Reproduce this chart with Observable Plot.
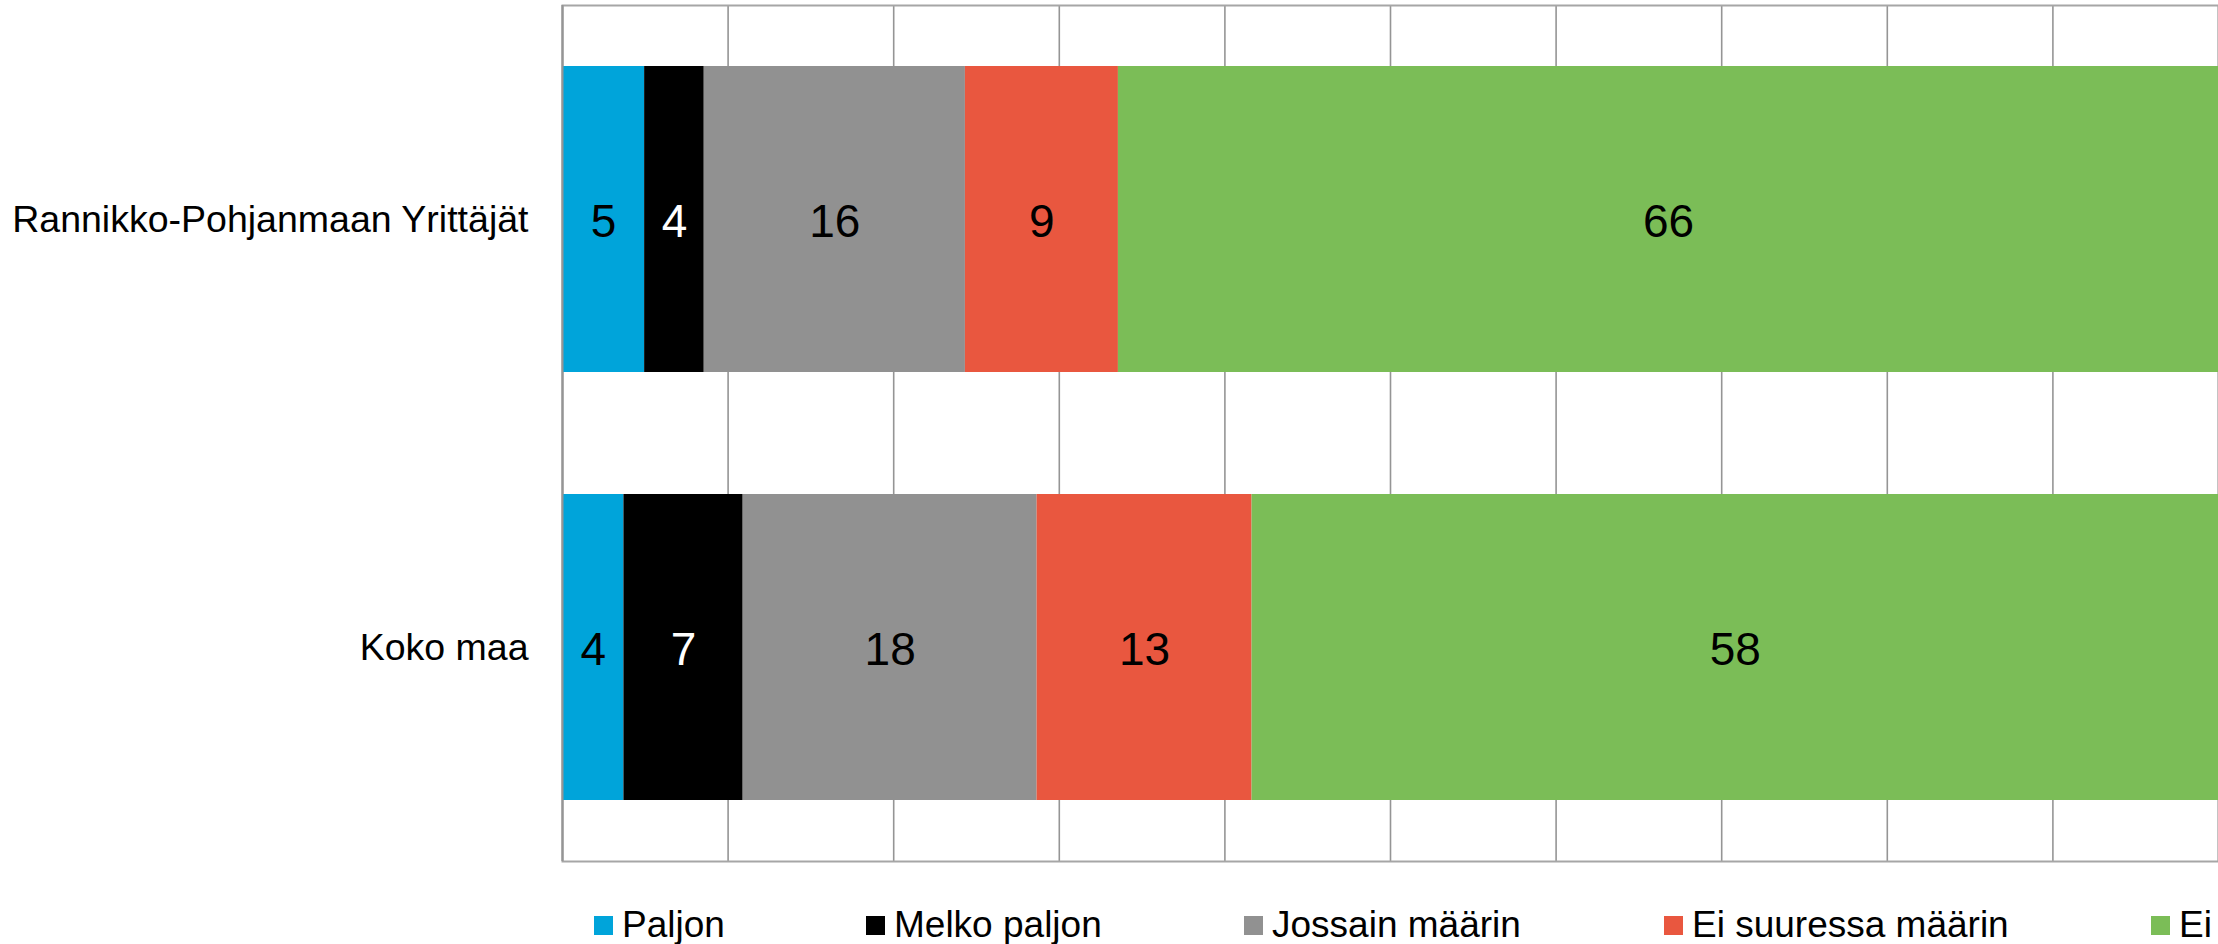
<!DOCTYPE html>
<html>
<head>
<meta charset="utf-8">
<script src="https://cdn.jsdelivr.net/npm/d3@7"></script>
<script src="https://cdn.jsdelivr.net/npm/@observablehq/plot@0.6"></script>
<style>
  html, body { margin: 0; padding: 0; background: #fff; overflow: hidden; }
  #wrap { position: relative; width: 2218px; height: 944px; overflow: hidden; font-family: "Liberation Sans", Arial, sans-serif; }
  #legend { position: absolute; left: 0; top: 0; width: 2218px; height: 944px; pointer-events: none; }
  .item { position: absolute; top: 906px; height: 37px; line-height: 37px; font-size: 37px; color: #000; white-space: nowrap; }
  .sw { position: absolute; left: 0; top: 10px; width: 19px; height: 19px; }
  .lab { position: absolute; left: 28px; top: 0; }
</style>
</head>
<body>
<div id="wrap"><div id="chart"></div><div id="legend"></div></div>
<script>
const categories = ["Rannikko-Pohjanmaan Yrittäjät", "Koko maa"];
const seriesNames = ["Paljon", "Melko paljon", "Jossain määrin", "Ei suuressa määrin", "Ei"];
// shares in percent (bar lengths; labels show them rounded)
const paljon = [4.96, 3.71];
const melkoPaljon = [3.6, 7.2];
const jossainMaarin = [15.77, 17.75];
const eiSuuressaMaarin = [9.24, 12.98];
const ei = [66.43, 58.36];
const seriesColors = ["#00a4da", "#000000", "#919191", "#e9573f", "#7bbd57"];
const xTicks = [0, 10, 20, 30, 40, 50, 60, 70, 80, 90, 100];
const legendX = [594, 866, 1244, 1664, 2151];

const seriesValues = [paljon, melkoPaljon, jossainMaarin, eiSuuressaMaarin, ei];
const rows = [];
categories.forEach((c, ci) => {
  seriesNames.forEach((s, si) => {
    rows.push({category: c, series: s, value: seriesValues[si][ci]});
  });
});

const chart = Plot.plot({
  width: 2218,
  height: 890,
  marginLeft: 562,
  marginRight: 0,
  marginTop: 5,
  marginBottom: 29,
  style: {fontFamily: "'Liberation Sans', Arial, sans-serif", fontSize: "37.5px", color: "#000", background: "#fff"},
  x: {domain: [0, 100], axis: null},
  y: {domain: categories, paddingInner: 0.285, paddingOuter: 0.1425, label: null, tickSize: 0, tickPadding: 34},
  color: {domain: seriesNames, range: seriesColors},
  marks: [
    Plot.ruleX(xTicks, {stroke: "#959595", strokeWidth: 1.6}),
    Plot.frame({stroke: "#a6a6a6", strokeWidth: 2}),
    Plot.barX(rows, Plot.stackX({x: "value", y: "category", fill: "series", order: seriesNames})),
    Plot.text(rows, Plot.stackX({
      x: "value", y: "category", order: seriesNames,
      text: d => String(Math.round(d.value)),
      fill: d => d.series === "Melko paljon" ? "#ffffff" : "#000000",
      fontSize: 46, dy: 3
    })),
    Plot.ruleX([0], {stroke: "#959595", strokeWidth: 2})
  ]
});
document.getElementById("chart").appendChild(chart);

const legend = document.getElementById("legend");
seriesNames.forEach((s, i) => {
  const item = document.createElement("div");
  item.className = "item";
  item.style.left = legendX[i] + "px";
  const sw = document.createElement("span");
  sw.className = "sw";
  sw.style.background = seriesColors[i];
  const lab = document.createElement("span");
  lab.className = "lab";
  lab.textContent = s;
  item.appendChild(sw);
  item.appendChild(lab);
  legend.appendChild(item);
});
</script>
</body>
</html>
